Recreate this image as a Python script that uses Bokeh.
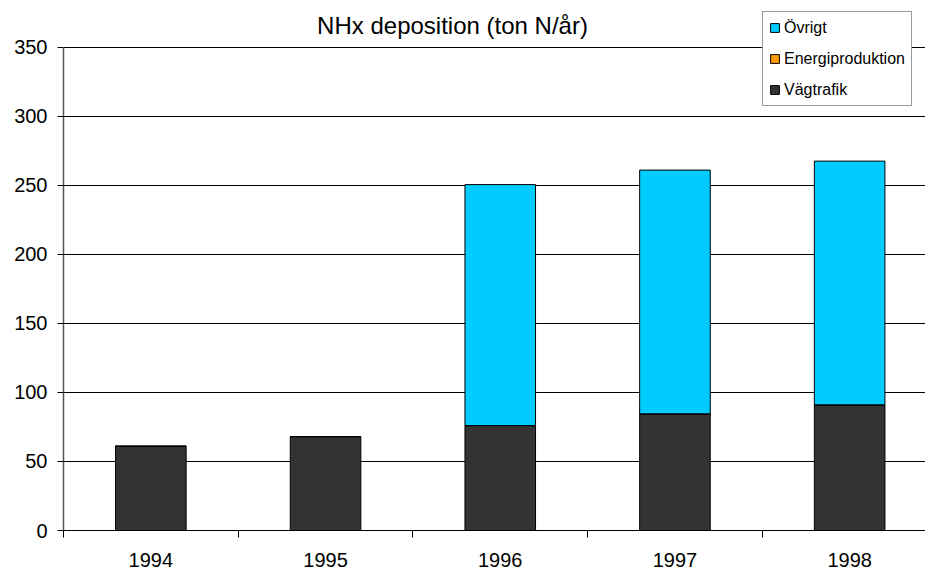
from bokeh.plotting import figure
from bokeh.models import (ColumnDataSource, Range1d, FixedTicker, Legend, LegendItem, Label)
from bokeh.embed import file_html
from bokeh.resources import INLINE

years = ["1994", "1995", "1996", "1997", "1998"]
vagtrafik = [61, 68, 76, 84.5, 91]
energiproduktion = [0, 0, 0, 0, 0]
ovrigt = [0, 0, 174.5, 176.5, 176.5]
series = ["Vägtrafik", "Energiproduktion", "Övrigt"]
colors = ["#333333", "#FF9900", "#00CCFF"]
y_ticks = [0, 50, 100, 150, 200, 250, 300, 350]

FONT = "Liberation Sans"
xs = [i + 0.5 for i in range(len(years))]
src = ColumnDataSource(dict(x=xs, **{"Vägtrafik": vagtrafik,
                                     "Energiproduktion": energiproduktion,
                                     "Övrigt": ovrigt}))

p = figure(width=925, height=570, output_backend="svg", toolbar_location=None,
           x_range=Range1d(0, 862 / 174.7), y_range=Range1d(0, 350 * 520 / 483.3),
           min_border_left=63, min_border_right=0, min_border_top=10,
           min_border_bottom=40)
p.outline_line_color = None
p.background_fill_color = "white"
p.border_fill_color = "white"

title = Label(x=389, y=505, x_units="screen", y_units="screen",
              text="NHx deposition (ton N/år)", text_font=FONT,
              text_font_size="24px", text_color="black",
              text_align="center", text_baseline="alphabetic")
p.add_layout(title)

rs = p.vbar_stack(series, x="x", width=0.404, source=src, color=colors,
                  line_color="black", line_width=1)

# axes
p.xaxis.ticker = FixedTicker(ticks=xs, minor_ticks=list(range(len(years) + 1)))
p.xaxis.major_label_overrides = {x: y for x, y in zip(xs, years)}
p.xaxis.major_tick_line_color = None
p.xaxis.major_tick_out = 0
p.xaxis.major_tick_in = 0
p.xaxis.minor_tick_line_color = "black"
p.xaxis.minor_tick_out = 7
p.xaxis.minor_tick_in = 0
p.xaxis.axis_line_color = "black"
p.xaxis.major_label_text_font = FONT
p.xaxis.major_label_text_font_size = "20px"
p.xaxis.major_label_text_color = "black"
p.xaxis.major_label_standoff = 15

p.yaxis.ticker = FixedTicker(ticks=y_ticks, minor_ticks=[])
p.yaxis.bounds = (0, 350)
p.yaxis.major_tick_line_color = "black"
p.yaxis.major_tick_out = 6
p.yaxis.major_tick_in = 0
p.yaxis.axis_line_color = "#555555"
p.yaxis.axis_line_width = 1.5
p.yaxis.major_label_text_font = FONT
p.yaxis.major_label_text_font_size = "20px"
p.yaxis.major_label_text_color = "black"
p.yaxis.major_label_standoff = 10

p.xgrid.grid_line_color = None
p.ygrid.ticker = FixedTicker(ticks=y_ticks[1:])
p.ygrid.grid_line_color = "black"
p.ygrid.grid_line_width = 1

items = [LegendItem(label=s, renderers=[r]) for s, r in zip(series, rs)][::-1]
legend = Legend(items=items, location=(699, 424))
legend.label_text_font = FONT
legend.label_text_font_size = "16px"
legend.label_text_color = "black"
legend.glyph_width = 11
legend.glyph_height = 11
legend.label_height = 19
legend.label_standoff = 4
legend.spacing = 12
legend.padding = 6
legend.margin = 0
legend.border_line_color = "#333333"
legend.border_line_width = 1
legend.background_fill_color = "white"
legend.background_fill_alpha = 1
p.add_layout(legend)

open("out.html", "w").write(file_html(p, INLINE))
